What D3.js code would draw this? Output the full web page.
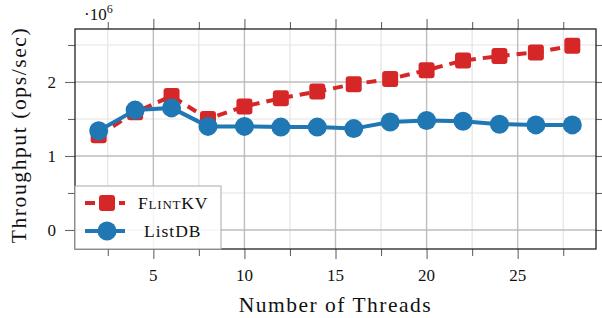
<!DOCTYPE html>
<html>
<head>
<meta charset="utf-8">
<script src="https://cdn.jsdelivr.net/npm/d3@7"></script>
<style>
  body { margin: 0; background: #fff; }
  svg text { font-family: "Liberation Serif", serif; fill: #111; }
</style>
</head>
<body>
<svg id="drawing_region"></svg>
<script>
// threads on x, throughput in millions of ops/sec
const threads = [2, 4, 6, 8, 10, 12, 14, 16, 18, 20, 22, 24, 26, 28];
const flintkv = [1.28, 1.59, 1.81, 1.50, 1.67, 1.78, 1.87, 1.97, 2.04, 2.16, 2.29, 2.35, 2.40, 2.49];
const listdb  = [1.34, 1.62, 1.65, 1.40, 1.40, 1.39, 1.39, 1.37, 1.46, 1.48, 1.47, 1.43, 1.42, 1.42];
const xTicks = [5, 10, 15, 20, 25];
const xMinor = [2.5, 7.5, 12.5, 17.5, 22.5, 27.5];
const yTicks = [0, 1, 2];
const yMinor = [0.5, 1.5, 2.5];
const seriesNames = ["FlintKV", "ListDB"];

const width = 602, height = 318;
const margin = {left: 75, right: 6, top: 29, bottom: 69};
const red = "#d62728", blue = "#1f77b4";

const svg = d3.select("#drawing_region")
    .attr("width", width)
    .attr("height", height);

const x = d3.scaleLinear().domain([0.7, 29.3]).range([margin.left, width - margin.right]);
const y = d3.scaleLinear().domain([-0.257, 2.716]).range([height - margin.bottom, margin.top]);

const x0 = x.range()[0], x1 = x.range()[1];
const y0 = y.range()[0], y1 = y.range()[1];

// grid
const grid = svg.append("g");
grid.selectAll(".gxm").data(xMinor).enter().append("line")
    .attr("x1", d => x(d)).attr("x2", d => x(d)).attr("y1", y0).attr("y2", y1)
    .attr("stroke", "#e4e4e4").attr("stroke-width", 1.2);
grid.selectAll(".gym").data(yMinor).enter().append("line")
    .attr("x1", x0).attr("x2", x1).attr("y1", d => y(d)).attr("y2", d => y(d))
    .attr("stroke", "#e4e4e4").attr("stroke-width", 1.2);
grid.selectAll(".gx").data(xTicks).enter().append("line")
    .attr("x1", d => x(d)).attr("x2", d => x(d)).attr("y1", y0).attr("y2", y1)
    .attr("stroke", "#bdbdbd").attr("stroke-width", 1.4);
grid.selectAll(".gy").data(yTicks).enter().append("line")
    .attr("x1", x0).attr("x2", x1).attr("y1", d => y(d)).attr("y2", d => y(d))
    .attr("stroke", "#bdbdbd").attr("stroke-width", 1.4);

// outside ticks on all four sides
function ticks(axisFn, scale, vals, size, pos) {
    const g = svg.append("g")
        .attr("transform", pos)
        .call(axisFn(scale).tickValues(vals).tickSize(size).tickSizeOuter(0).tickFormat(""));
    g.select(".domain").remove();
    g.selectAll(".tick line").attr("stroke", "#666").attr("stroke-width", 1.1);
    return g;
}
ticks(d3.axisBottom, x, xTicks, 10, `translate(0,${y0})`);
ticks(d3.axisBottom, x, xMinor, 7, `translate(0,${y0})`);
ticks(d3.axisTop, x, xTicks, 10, `translate(0,${y1})`);
ticks(d3.axisTop, x, xMinor, 7, `translate(0,${y1})`);
ticks(d3.axisLeft, y, yTicks, 10, `translate(${x0},0)`);
ticks(d3.axisLeft, y, yMinor, 7, `translate(${x0},0)`);
ticks(d3.axisRight, y, yTicks, 10, `translate(${x1},0)`);
ticks(d3.axisRight, y, yMinor, 7, `translate(${x1},0)`);

// tick labels
svg.append("g").selectAll("text").data(xTicks).enter().append("text")
    .attr("x", d => x(d)).attr("y", y0 + 32)
    .attr("text-anchor", "middle").attr("font-size", 17)
    .text(d => d);
svg.append("g").selectAll("text").data(yTicks).enter().append("text")
    .attr("x", x0 - 19).attr("y", d => y(d) + 6)
    .attr("text-anchor", "end").attr("font-size", 17)
    .text(d => d);

// frame
svg.append("rect")
    .attr("x", x0).attr("y", y1).attr("width", x1 - x0).attr("height", y0 - y1)
    .attr("fill", "none").attr("stroke", "#222").attr("stroke-width", 1.3);

// scale factor
const sf = svg.append("text").attr("x", x0 + 9).attr("y", 20).attr("font-size", 17);
sf.append("tspan").text("·10");
sf.append("tspan").attr("dy", -7).attr("font-size", 12).text("6");

// axis labels
svg.append("text")
    .attr("x", (x0 + x1) / 2).attr("y", height - 6)
    .attr("text-anchor", "middle").attr("font-size", 21.5)
    .attr("letter-spacing", 1.5)
    .text("Number of Threads");
svg.append("text")
    .attr("transform", `translate(26,${(y0 + y1) / 2 - 4}) rotate(-90)`)
    .attr("text-anchor", "middle").attr("font-size", 21.5)
    .attr("letter-spacing", 1.6)
    .text("Throughput (ops/sec)");

// series
const line = d3.line().x(d => x(d[0])).y(d => y(d[1]));
const redData = threads.map((t, i) => [t, flintkv[i]]);
const blueData = threads.map((t, i) => [t, listdb[i]]);

svg.append("path").datum(redData)
    .attr("d", line).attr("fill", "none")
    .attr("stroke", red).attr("stroke-width", 4).attr("stroke-dasharray", "10,7");
svg.append("g").selectAll("rect").data(redData).enter().append("rect")
    .attr("x", d => x(d[0]) - 8).attr("y", d => y(d[1]) - 8)
    .attr("width", 16).attr("height", 16).attr("rx", 3)
    .attr("fill", red);

svg.append("path").datum(blueData)
    .attr("d", line).attr("fill", "none")
    .attr("stroke", blue).attr("stroke-width", 4);
svg.append("g").selectAll("circle").data(blueData).enter().append("circle")
    .attr("cx", d => x(d[0])).attr("cy", d => y(d[1])).attr("r", 9.5)
    .attr("fill", blue);

// legend
const lg = svg.append("g").attr("transform", `translate(${x0},186)`);
lg.append("rect").attr("width", 146).attr("height", y0 - 186)
    .attr("fill", "#fff").attr("fill-opacity", 0.85)
    .attr("stroke", "#aaa").attr("stroke-width", 1);

const e1 = lg.append("g").attr("transform", "translate(0,17)");
e1.append("line").attr("x1", 10).attr("x2", 50)
    .attr("stroke", red).attr("stroke-width", 4).attr("stroke-dasharray", "10,7");
e1.append("rect").attr("x", 24).attr("y", -8).attr("width", 16).attr("height", 16).attr("rx", 3)
    .attr("fill", red);
const t1 = e1.append("text").attr("x", 63).attr("y", 6).attr("font-size", 17.5)
    .attr("letter-spacing", 0.8);
t1.append("tspan").text("F");
t1.append("tspan").attr("font-size", 13).text("LINT");
t1.append("tspan").text("KV");

const e2 = lg.append("g").attr("transform", "translate(0,45)");
e2.append("line").attr("x1", 10).attr("x2", 50)
    .attr("stroke", blue).attr("stroke-width", 4);
e2.append("circle").attr("cx", 32).attr("r", 9.5).attr("fill", blue);
e2.append("text").attr("x", 69).attr("y", 6).attr("font-size", 17.5)
    .attr("letter-spacing", 1).text(seriesNames[1]);
</script>
</body>
</html>
